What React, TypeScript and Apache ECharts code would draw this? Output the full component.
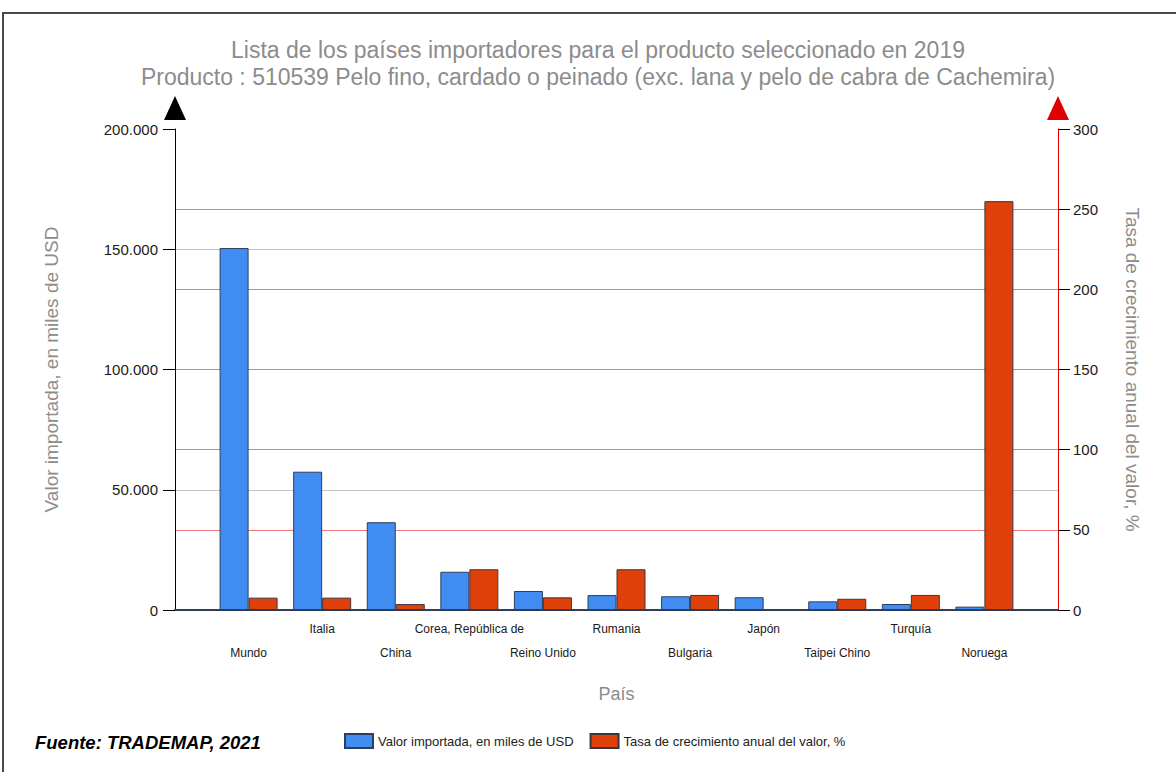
import React, { useEffect, useRef } from "react";
import * as echarts from "echarts";

const categories = [
  "Mundo",
  "Italia",
  "China",
  "Corea, República de",
  "Reino Unido",
  "Rumania",
  "Bulgaria",
  "Japón",
  "Taipei Chino",
  "Turquía",
  "Noruega",
];
const importValues = [150500, 57500, 36500, 15900, 7900, 6200, 5700, 5300, 3600, 2500, 1400];
const growthRates: (number | null)[] = [7.7, 7.7, 3.7, 25.4, 7.9, 25.4, 9.4, null, 7.0, 9.4, 255];

const titleLines = [
  "Lista de los países importadores para el producto seleccionado en 2019",
  "Producto : 510539 Pelo fino, cardado o peinado (exc. lana y pelo de cabra de Cachemira)",
];
const seriesNames = ["Valor importada, en miles de USD", "Tasa de crecimiento anual del valor, %"];
const leftAxisName = "Valor importada, en miles de USD";
const rightAxisName = "Tasa de crecimiento anual del valor, %";
const xAxisName = "País";
const sourceText = "Fuente: TRADEMAP, 2021";

const FONT = "'Liberation Sans', Arial, sans-serif";

function fmtThousands(v: number) {
  return String(v).replace(/\B(?=(\d{3})+(?!\d))/g, ".");
}

export default function App() {
  const ref = useRef<HTMLDivElement>(null);
  useEffect(() => {
    document.body.style.margin = "0";
    if (!ref.current) return;
    const chart = echarts.init(ref.current, null, { renderer: "svg" });
    const xData = ["", ...categories, ""];
    const blue = [null, ...importValues, null];
    const red = [null, ...growthRates, null];
    chart.setOption({
      animation: false,
      backgroundColor: "#ffffff",
      textStyle: { fontFamily: FONT },
      graphic: [
        {
          type: "rect",
          shape: { x: 3, y: 13, width: 1200, height: 800 },
          style: { fill: "none", stroke: "#4a4a4a", lineWidth: 2 },
          silent: true,
        },
        {
          type: "text",
          x: 598,
          y: 50,
          style: {
            text: titleLines[0],
            fill: "#8c8c8c",
            font: `23px ${FONT}`,
            textAlign: "center",
            textVerticalAlign: "middle",
          },
        },
        {
          type: "text",
          x: 598,
          y: 77,
          style: {
            text: titleLines[1],
            fill: "#8c8c8c",
            font: `23px ${FONT}`,
            textAlign: "center",
            textVerticalAlign: "middle",
          },
        },
        {
          type: "text",
          x: 35,
          y: 742,
          style: {
            text: sourceText,
            fill: "#000000",
            font: `italic bold 18.5px ${FONT}`,
            textAlign: "left",
            textVerticalAlign: "middle",
          },
        },
      ],
      legend: {
        left: 344,
        top: 733,
        padding: 0,
        icon: "rect",
        itemWidth: 28,
        itemHeight: 14,
        itemGap: 16,
        textStyle: { fontSize: 13, color: "#222", fontFamily: FONT },
        data: seriesNames,
      },
      grid: { left: 175, right: 118, top: 129, bottom: 162, containLabel: false },
      xAxis: [
        {
          type: "category",
          data: xData,
          boundaryGap: false,
          name: xAxisName,
          nameLocation: "middle",
          nameGap: 75,
          nameTextStyle: { color: "#8c8c8c", fontSize: 18, fontFamily: FONT },
          axisLine: { show: true, lineStyle: { color: "#404040", width: 2 } },
          axisTick: { show: false },
          splitLine: { show: false },
          axisLabel: {
            interval: 0,
            margin: 7,
            fontSize: 12,
            lineHeight: 24,
            color: "#1a1a1a",
            fontFamily: FONT,
            formatter: (v: string, i: number) => (i % 2 === 1 ? "\n" + v : v),
          },
        },
        {
          type: "category",
          data: xData,
          boundaryGap: false,
          position: "top",
          axisLine: { show: true, lineStyle: { color: "#2e3a55", width: 1 } },
          axisTick: { show: false },
          axisLabel: { show: false },
          splitLine: { show: false },
        },
      ],
      yAxis: [
        {
          type: "value",
          min: 0,
          max: 200000,
          interval: 50000,
          position: "left",
          name: leftAxisName,
          nameLocation: "middle",
          nameGap: 114,
          nameRotate: 90,
          nameTextStyle: { color: "#8c8c8c", fontSize: 19, fontFamily: FONT },
          axisLine: {
            show: true,
            lineStyle: { color: "#000000", width: 1 },
            symbol: ["none", "triangle"],
            symbolSize: [22, 24],
            symbolOffset: [0, 21],
          },
          axisTick: { show: true, length: 12, lineStyle: { color: "#000" } },
          axisLabel: {
            margin: 17,
            fontSize: 15,
            color: "#1a1a1a",
            fontFamily: FONT,
            formatter: (v: number) => fmtThousands(v),
          },
          splitLine: {
            show: true,
            showMinLine: false,
            showMaxLine: false,
            lineStyle: { color: "#c4c4c4", width: 1 },
          },
        },
        {
          type: "value",
          min: 0,
          max: 300,
          interval: 50,
          position: "right",
          name: rightAxisName,
          nameLocation: "middle",
          nameGap: 65,
          nameRotate: -90,
          nameTextStyle: { color: "#8c8c8c", fontSize: 19, fontFamily: FONT },
          axisLine: {
            show: true,
            lineStyle: { color: "#e00000", width: 1 },
            symbol: ["none", "triangle"],
            symbolSize: [22, 24],
            symbolOffset: [0, 21],
          },
          axisTick: { show: true, length: 12, lineStyle: { color: "#000" } },
          axisLabel: {
            margin: 15,
            fontSize: 15,
            color: "#1a1a1a",
            fontFamily: FONT,
          },
          splitLine: {
            show: true,
            showMinLine: false,
            showMaxLine: false,
            lineStyle: { color: "#f07878", width: 1 },
          },
        },
      ],
      series: [
        {
          name: seriesNames[0],
          type: "bar",
          yAxisIndex: 0,
          data: blue,
          barWidth: 29,
          barGap: "0%",
          itemStyle: { color: "#418cf0", borderColor: "#2c3e5e", borderWidth: 1 },
        },
        {
          name: seriesNames[1],
          type: "bar",
          yAxisIndex: 1,
          data: red,
          barWidth: 29,
          barGap: "0%",
          itemStyle: { color: "#e0400a", borderColor: "#3a3540", borderWidth: 1 },
        },
      ],
    });
    return () => chart.dispose();
  }, []);
  return (
    <div
      ref={ref}
      style={{ position: "absolute", left: 0, top: 0, width: 1176, height: 772 }}
    />
  );
}
